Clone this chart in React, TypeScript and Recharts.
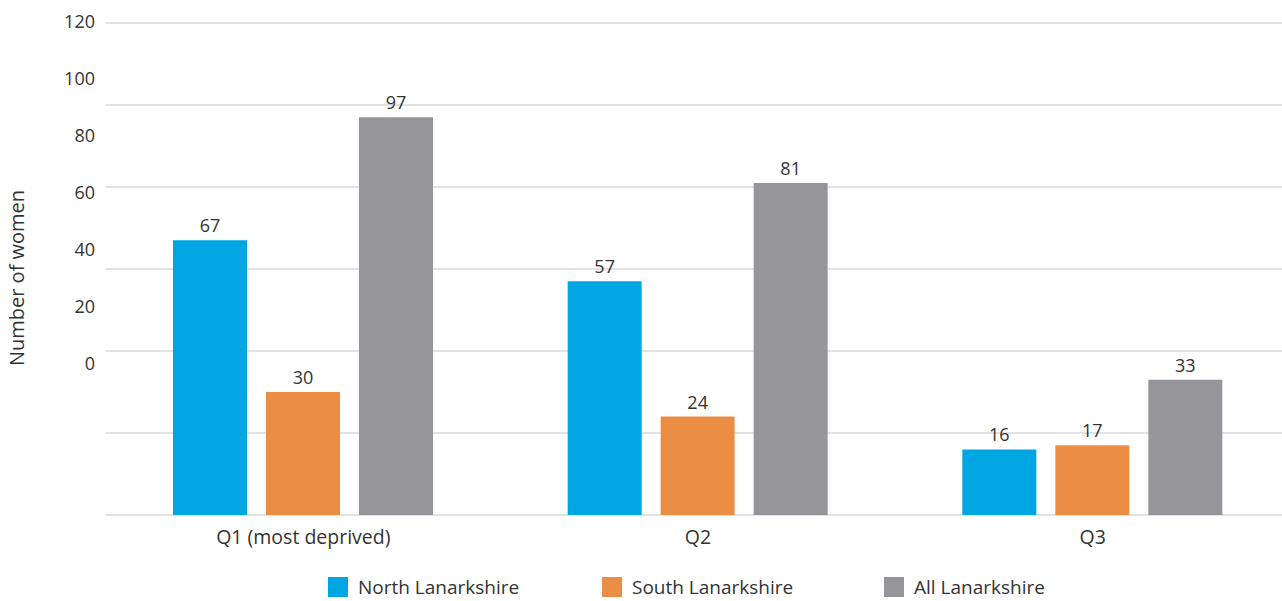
import { BarChart, Bar, XAxis, YAxis, CartesianGrid, LabelList } from 'recharts'

const quintiles = ['Q1 (most deprived)', 'Q2', 'Q3']
const northLanarkshire = [67, 57, 16]
const southLanarkshire = [30, 24, 17]
const allLanarkshire = [97, 81, 33]
const yTicks = [0, 20, 40, 60, 80, 100, 120]

const series = [
  { key: 'north', name: 'North Lanarkshire', color: '#00A6E1', itemWidth: 274 },
  { key: 'south', name: 'South Lanarkshire', color: '#EB8D43', itemWidth: 282 },
  { key: 'all', name: 'All Lanarkshire', color: '#96969A', itemWidth: 200 },
]

const data = quintiles.map((q, i) => ({
  quintile: q,
  north: northLanarkshire[i],
  south: southLanarkshire[i],
  all: allLanarkshire[i],
}))

const FONT = '"Open Sans", Lato, sans-serif'
const TEXT = '#333333'
const TOP = 23

// the original's tick labels drift upward from their gridlines; keep that look
function YTick(props: any) {
  const { y, payload } = props
  const labelY = 22 + (y - TOP) * (57 / 82)
  return (
    <text x={95} y={labelY} dy="0.35em" textAnchor="end" fill={TEXT} fontSize={18} fontFamily={FONT}>
      {payload.value}
    </text>
  )
}

function YLabel(props: any) {
  const { viewBox } = props
  const cy = viewBox.y + viewBox.height / 2 + 9
  return (
    <text
      x={16}
      y={cy}
      transform={`rotate(-90 16 ${cy})`}
      textAnchor="middle"
      dominantBaseline="central"
      fill={TEXT}
      fontSize={20}
      fontFamily={FONT}
    >
      Number of women
    </text>
  )
}

export default function App() {
  return (
    <div
      style={{
        position: 'absolute',
        left: 0,
        top: 0,
        width: 1282,
        height: 601,
        overflow: 'hidden',
        fontFamily: FONT,
      }}
    >
      <BarChart
        width={1290}
        height={570}
        data={data}
        margin={{ top: TOP, right: 0, bottom: 25, left: 0 }}
        barSize={74}
        barGap={19}
      >
        <CartesianGrid stroke="#d9d9d9" strokeWidth={1.5} vertical={false} />
        <XAxis
          dataKey="quintile"
          height={30}
          axisLine={false}
          tickLine={false}
          tickMargin={9}
          tick={{ fill: TEXT, fontSize: 19.5, fontFamily: FONT }}
        />
        <YAxis
          width={106}
          domain={[0, 120]}
          ticks={yTicks}
          axisLine={false}
          tickLine={false}
          tick={<YTick />}
          label={<YLabel />}
        />
        {series.map((s) => (
          <Bar key={s.key} dataKey={s.key} name={s.name} fill={s.color} isAnimationActive={false}>
            <LabelList dataKey={s.key} position="top" offset={8} fill={TEXT} fontSize={18} fontFamily={FONT} />
          </Bar>
        ))}
      </BarChart>
      <div
        style={{
          position: 'absolute',
          top: 577,
          left: 328,
          display: 'flex',
          color: TEXT,
          fontSize: 19,
          lineHeight: '20px',
        }}
      >
        {series.map((s) => (
          <div key={s.key} style={{ display: 'flex', alignItems: 'center', gap: 10, width: s.itemWidth }}>
            <span style={{ width: 20, height: 20, background: s.color, display: 'inline-block', flexShrink: 0 }} />
            <span>{s.name}</span>
          </div>
        ))}
      </div>
    </div>
  )
}
